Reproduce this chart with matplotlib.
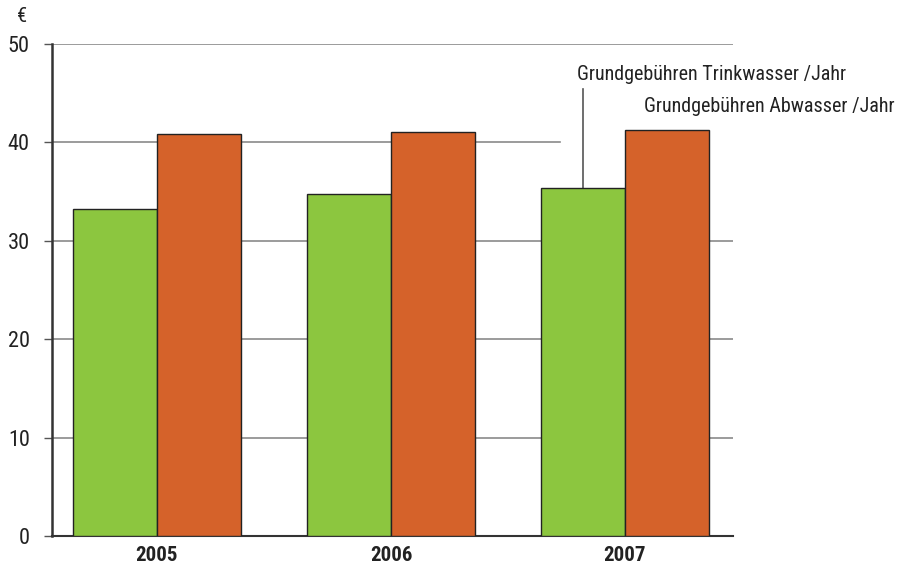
import numpy as np
import matplotlib.pyplot as plt

# -----------------------------
# Data
# -----------------------------
years = ["2005", "2006", "2007"]
trinkwasser = [33.2, 34.7, 35.4]
abwasser = [40.8, 41.0, 41.3]
y_ticks = [0, 10, 20, 30, 40, 50]

label_trink = "Grundgebühren Trinkwasser /Jahr"
label_abw = "Grundgebühren Abwasser /Jahr"

green = "#8cc63f"
orange = "#d5622a"
narrow = ["Roboto Condensed", "Roboto", "DejaVu Sans"]

# -----------------------------
# Figure
# -----------------------------
fig = plt.figure(figsize=(9.02, 5.65), dpi=100)
ax = fig.add_axes([0.0576, 0.0513, 0.755, 0.871])

x = np.arange(len(years))
width = 0.359

ax.bar(x - width / 2, trinkwasser, width, align="center", color=green,
       edgecolor="#222222", linewidth=1.0, zorder=3)
ax.bar(x + width / 2, abwasser, width, align="center", color=orange,
       edgecolor="#222222", linewidth=1.0, zorder=3)

ax.set_xlim(-0.449, 2.462)
ax.set_ylim(0, 50)

# gridlines (the 40 line stops before the labels)
for v in y_ticks[1:]:
    xmax = 0.746 if v == 40 else 1.0
    ax.axhline(v, xmin=0, xmax=xmax, color="#8a8a8a", linewidth=1.2, zorder=1)

ax.set_yticks(y_ticks)
ax.set_yticklabels([str(v) for v in y_ticks], family=narrow, fontsize=16,
                   color="#222222")
ax.tick_params(axis="y", length=6, width=1, color="#555555", pad=10)

ax.set_xticks(x)
ax.set_xticklabels(years, family=narrow, fontsize=15, fontweight="bold",
                   color="#222222")
ax.tick_params(axis="x", length=0, pad=7)

for side in ["top", "right"]:
    ax.spines[side].set_visible(False)
ax.spines["left"].set_color("#333333")
ax.spines["left"].set_linewidth(1.8)
ax.spines["bottom"].set_color("#333333")
ax.spines["bottom"].set_linewidth(1.5)
ax.spines["left"].set_zorder(4)

# € unit above the axis
ax.text(-0.577, 51.8, "€", family=narrow, fontsize=15, color="#222222",
        ha="center", va="bottom", clip_on=False)

# series labels
lead_x = x[-1] - width / 2
ax.plot([lead_x, lead_x], [trinkwasser[-1], 45.4], color="#555555",
        linewidth=1.2, zorder=2, clip_on=False)
ax.text(x[-1] - width / 2 - 0.027, 46.3, label_trink, family=narrow,
        fontsize=14.5, color="#222222", ha="left", va="baseline", clip_on=False)
ax.text(x[-1] + 0.081, 43.1, label_abw, family=narrow,
        fontsize=14.5, color="#222222", ha="left", va="baseline", clip_on=False)

plt.savefig("out.png", dpi=100)
